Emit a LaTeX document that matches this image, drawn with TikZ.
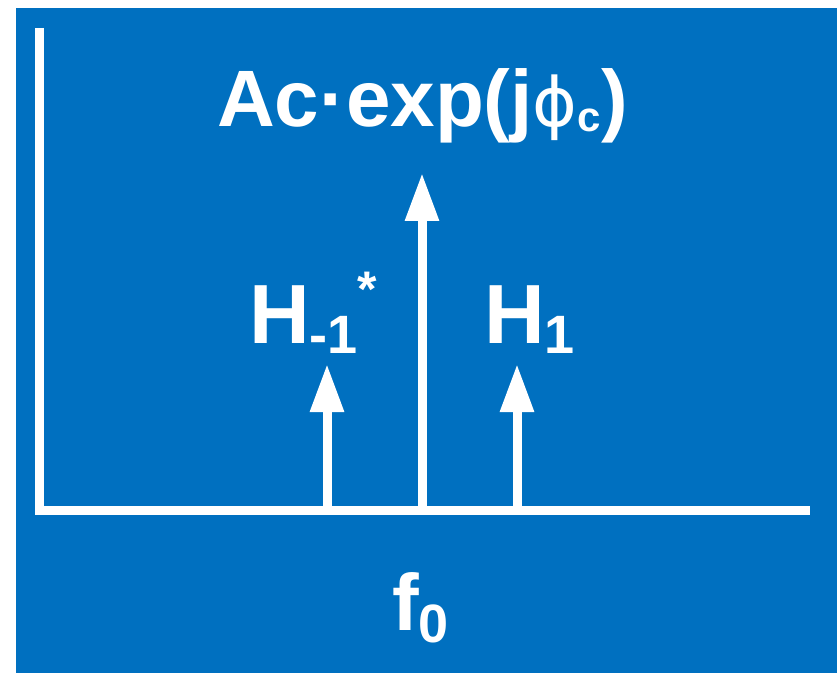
\documentclass[tikz,border=0pt]{standalone}
\usepackage{fontspec}
\setmainfont{Liberation Sans}
\newfontfamily\phifont{DejaVu Sans}
\usetikzlibrary{arrows.meta}
\definecolor{slideblue}{RGB}{0,112,192}
\tikzset{
  axisline/.style={white, line width=9pt},
  spike/.style={white, line width=9pt, -{Triangle[length=48pt,width=32pt]}},
  lbl/.style={white, font=\bfseries, inner sep=0pt, anchor=base west}
}
\begin{document}
\begin{tikzpicture}[x=1pt,y=1pt]
  \useasboundingbox (0,0) rectangle (837,673);
  \fill[slideblue] (16,0) rectangle (837,665);

  \coordinate (top) at (39,645);
  \coordinate (origin) at (39,163);
  \coordinate (end) at (810,163);
  \draw[axisline] (top) -- (origin) -- (end);

  \coordinate (lbase) at (327,163);
  \coordinate (ltip) at (327,309);
  \coordinate (cbase) at (422,163);
  \coordinate (ctip) at (422,500);
  \coordinate (rbase) at (517,163);
  \coordinate (rtip) at (517,309);
  \draw[spike] (lbase) -- (ltip);
  \draw[spike] (cbase) -- (ctip);
  \draw[spike] (rbase) -- (rtip);

  \node[lbl] (carrier) at (217,546) {\fontsize{80}{80}\selectfont Ac·exp(j{\phifont\mdseries\fontsize{68}{68}\selectfont ϕ}\raisebox{-5pt}{\fontsize{42}{42}\selectfont c})};
  \node[lbl] (hminus) at (249,330) {\fontsize{84}{84}\selectfont H\raisebox{-10pt}{\fontsize{54}{54}\selectfont -1}\raisebox{37pt}{\fontsize{50}{50}\selectfont *}};
  \node[lbl] (hplus) at (484,330) {\fontsize{84}{84}\selectfont H\raisebox{-10pt}{\fontsize{54}{54}\selectfont 1}};
  \node[lbl] (freq) at (392,43) {\fontsize{80}{80}\selectfont f\raisebox{-12pt}{\fontsize{54}{54}\selectfont 0}};
\end{tikzpicture}
\end{document}
